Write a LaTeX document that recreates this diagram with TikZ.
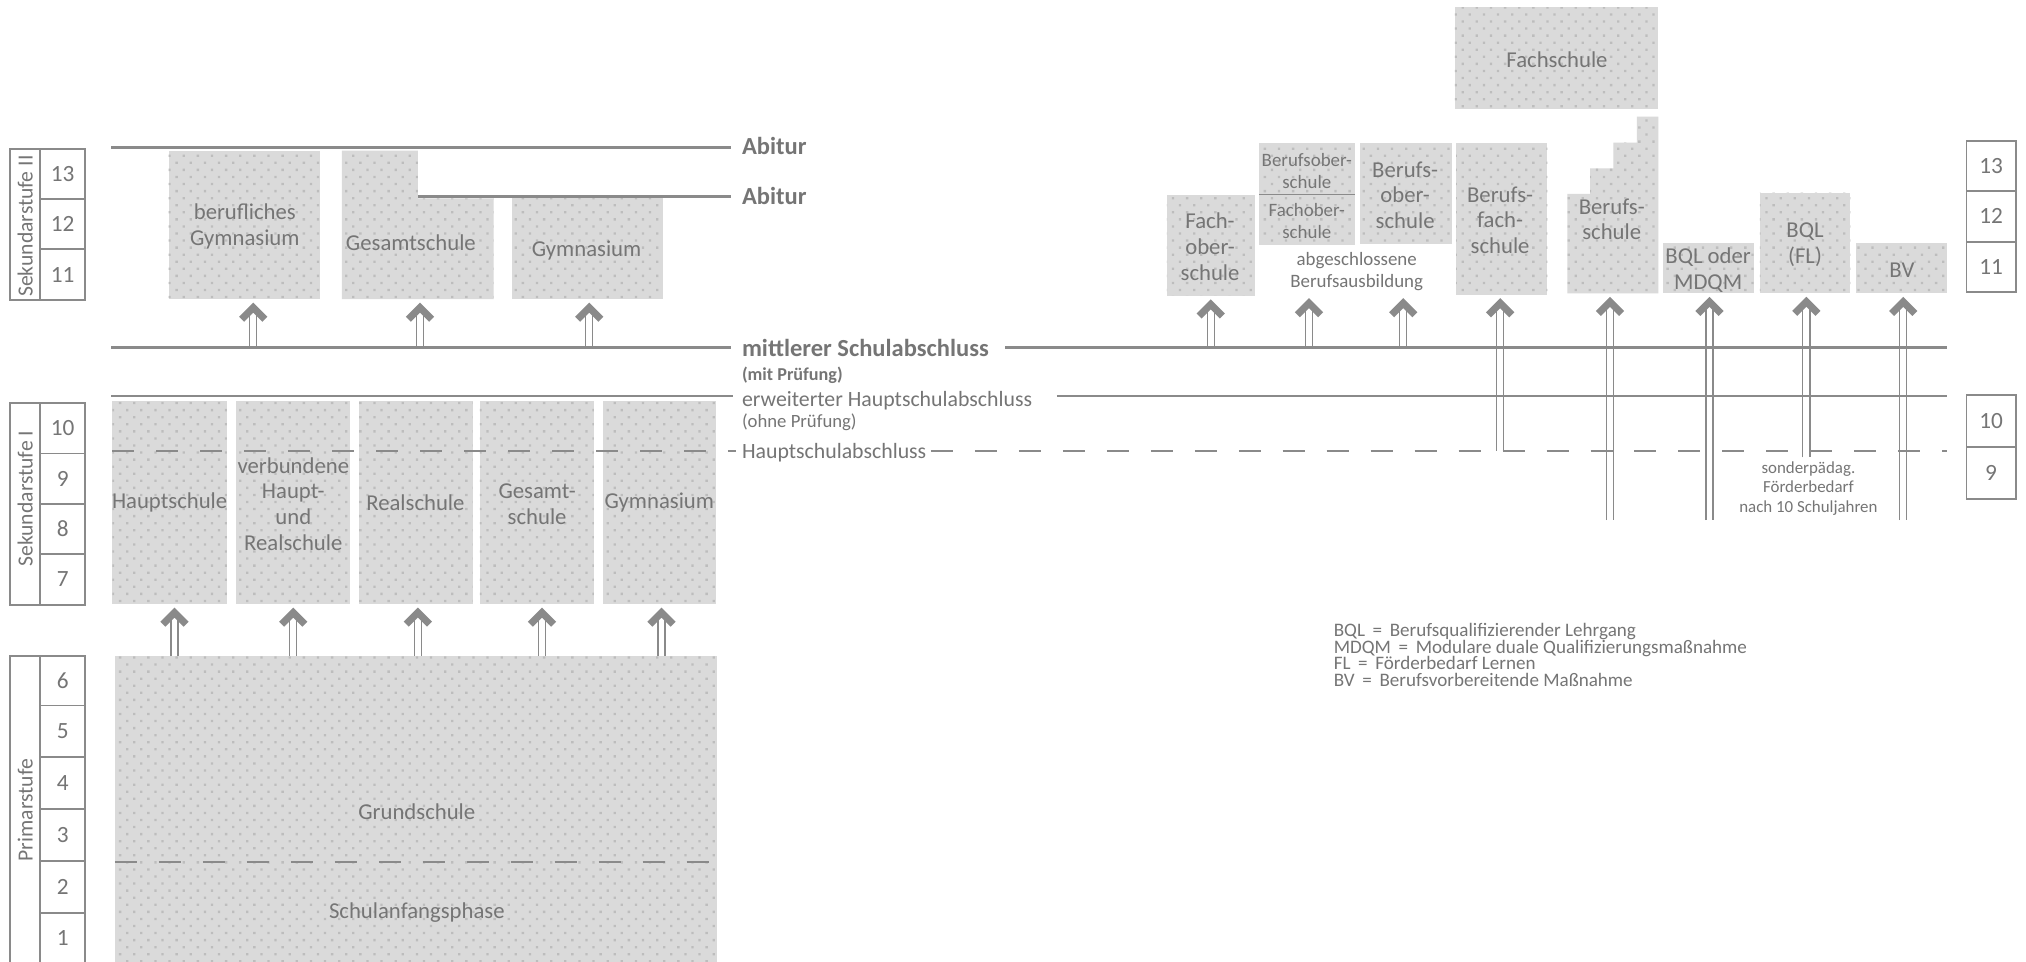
\documentclass[tikz,border=0pt]{standalone}
\usepackage{fontspec}
\setmainfont{Carlito}
\usetikzlibrary{fit,calc,patterns.meta}
\definecolor{ln}{HTML}{8A8A8A}
\definecolor{tx}{HTML}{757575}
\definecolor{bx}{HTML}{DADADA}
\definecolor{dt}{HTML}{BDBDBD}
\newcommand\fsz[2]{\fontsize{#1}{#2}\selectfont}
\newcommand\uparr[2]{%
  \draw[shaft] (#1) -- ($(#1 |- #2)+(0,8)$);
  \pic at ($(#1 |- #2)+(0,6.6)$) {chev};}
\tikzset{
  tex/.style={fill=bx, postaction={pattern={Dots[radius=0.9pt,distance=5.5pt,angle=45]}, pattern color=dt}},
  sbox/.style={tex, fit={#1}, inner sep=0pt, outer sep=0pt, draw=none},
  hole/.style={fit={#1}, inner sep=0pt, outer sep=0pt, draw=none},
  btxt/.style={font=\fsz{12.5}{14.2}, align=center, text=tx, inner sep=0pt},
  stxt/.style={font=\fsz{10.4}{12.1}, align=center, text=tx, inner sep=0pt},
  ttxt/.style={font=\fsz{9.3}{10.7}, align=center, text=tx, inner sep=0pt},
  ltxt/.style={font=\fsz{12}{14}, text=tx, inner sep=0pt, anchor=base west},
  lbold/.style={font=\fsz{13.5}{15}\bfseries, text=tx, inner sep=0pt, anchor=base west},
  num/.style={font=\fsz{12.8}{14}, text=tx, inner sep=0pt},
  vlab/.style={font=\fsz{11.9}{13}, text=tx, inner sep=0pt, rotate=90},
  legt/.style={font=\fsz{10.5}{9}, text=tx, inner sep=0pt, anchor=base west},
  thickln/.style={draw=ln, line width=1.9pt},
  thinln/.style={draw=ln, line width=0.9pt},
  dashln/.style={draw=ln, line width=1.1pt, dash pattern=on 12.1pt off 12.1pt},
  lab/.style={draw=ln, line width=1pt},
  shaft/.style={draw=ln, line width=0.7pt, double=white, double distance=3.2pt},
  chev/.pic={\draw[draw=ln, line width=3.9pt, line join=miter, line cap=butt] (-9,9) -- (0,0) -- (9,9);},
}
\begin{document}
\begin{tikzpicture}[x=0.025cm, y=-0.025cm]
\useasboundingbox (0,0) rectangle (1568,744);
\fill[white] (0,0) rectangle (1568,744);

% ---------- left label boxes
\draw[lab] (8,115) rectangle (66,232);
\draw[lab] (31,115) -- (31,232) (31,154) -- (66,154) (31,193) -- (66,193);
\node[vlab] (lsek2) at (19.5,175) {Sekundarstufe II};
\node[num] (n13) at (48.5,134.5) {13};
\node[num] (n12) at (48.5,173.5) {12};
\node[num] (n11) at (48.5,212.5) {11};

\draw[lab] (8,312) rectangle (66,468);
\draw[lab] (31,312) -- (31,468) (31,351) -- (66,351) (31,390) -- (66,390) (31,429) -- (66,429);
\node[vlab] (lsek1) at (19.5,386) {Sekundarstufe I};
\node[num] (n10) at (48.5,331.5) {10};
\node[num] (n9) at (48.5,370.5) {9};
\node[num] (n8) at (48.5,409.5) {8};
\node[num] (n7) at (48.5,448.5) {7};

\draw[lab] (8,508) rectangle (66,760);
\draw[lab] (31,508) -- (31,760) (31,546) -- (66,546) (31,586) -- (66,586) (31,626) -- (66,626) (31,666.5) -- (66,666.5) (31,706.4) -- (66,706.4);
\node[vlab] (lprim) at (19.5,627) {Primarstufe};
\node[num] (n6) at (48.5,527) {6};
\node[num] (n5) at (48.5,566) {5};
\node[num] (n4) at (48.5,606) {4};
\node[num] (n3) at (48.5,646) {3};
\node[num] (n2) at (48.5,686.5) {2};
\node[num] (n1) at (48.5,726) {1};

% ---------- right label boxes
\draw[lab] (1522,109) rectangle (1560,226);
\draw[lab] (1522,148) -- (1560,148) (1522,187) -- (1560,187);
\node[num] (r13) at (1541,128.5) {13};
\node[num] (r12) at (1541,167.5) {12};
\node[num] (r11) at (1541,206.5) {11};
\draw[lab] (1522,306) rectangle (1560,386);
\draw[lab] (1522,346) -- (1560,346);
\node[num] (r10) at (1541,326) {10};
\node[num] (r9) at (1541,366) {9};

% ---------- Sek II boxes
\node[sbox={(130.6,116.5)(247.6,231.5)}] (bg) {};
\fill[tex] (264.5,116.5) -- (323.5,116.5) -- (323.5,153.5) -- (382,153.5) -- (382,231.5) -- (264.5,231.5) -- cycle;
\node[hole={(264.5,116.5)(382,231.5)}] (gs2) {};
\node[sbox={(396.6,153.5)(513,231.5)}] (gy2) {};

% ---------- Sek I boxes
\node[sbox={(87,310)(175.6,467.5)}] (hs) {};
\node[sbox={(182.7,310)(270.9,467.5)}] (vb) {};
\node[sbox={(277.6,310)(365.8,467.5)}] (rs) {};
\node[sbox={(371.4,310)(459.6,467.5)}] (ge) {};
\node[sbox={(466.3,310)(554.5,467.5)}] (gy1) {};

% ---------- Grundschule
\node[sbox={(89,507.7)(555,760)}] (gr) {};

% ---------- right boxes
\node[sbox={(1126,5.7)(1283,84.6)}] (fach) {};
\node[sbox={(903,151)(971,229)}] (fos) {};
\node[sbox={(974.7,111)(1048.8,189.6)}] (bos1) {};
\node[sbox={(1052.6,111)(1123.6,189)}] (bos2) {};
\node[sbox={(1127,111)(1197.6,228)}] (bfs) {};
\fill[tex] (1213,227) -- (1213,150) -- (1230.7,150) -- (1230.7,130.3) -- (1248.7,130.3) -- (1248.7,110.4) -- (1266.8,110.4) -- (1266.8,90.3) -- (1283.5,90.3) -- (1283.5,227) -- cycle;
\node[hole={(1213,90.3)(1283.5,227)}] (bs) {};
\node[sbox={(1287.4,188.3)(1357.8,227)}] (bqlm) {};
\node[sbox={(1362,149)(1432,227)}] (bqlfl) {};
\node[sbox={(1436.5,188.3)(1507,227)}] (bv) {};
\draw[draw=ln, line width=0.9pt] (bos1.west |- 0,150.4) -- (bos1.east |- 0,150.4);
\coordinate (abs) at (1050,228);

% ---------- arrow start points
\coordinate (a1) at (196,269);
\coordinate (a2) at (325,269);
\coordinate (a3) at (456,269);
\coordinate (b1) at (135,507.7);
\coordinate (b2) at (227,507.7);
\coordinate (b3) at (323.4,507.7);
\coordinate (b4) at (419.5,507.7);
\coordinate (b5) at (512,507.7);
\coordinate (c1) at (937,269);
\coordinate (c2) at (1013,269);
\coordinate (c3) at (1086,269);
\coordinate (c4) at (1161,349);
\coordinate (c5) at (1246,402.5);
\coordinate (c6) at (1323,402.5);
\coordinate (c7) at (1398,354);
\coordinate (c8) at (1473,402.5);

\uparr{a1}{bg.south}
\uparr{a2}{gs2.south}
\uparr{a3}{gy2.south}
\uparr{b1}{hs.south}
\uparr{b2}{vb.south}
\uparr{b3}{rs.south}
\uparr{b4}{ge.south}
\uparr{b5}{gy1.south}
\uparr{c1}{fos.south}
\uparr{c2}{abs}
\uparr{c3}{abs}
\uparr{c4}{bfs.south}
\uparr{c5}{bs.south}
\uparr{c6}{bqlm.south}
\uparr{c7}{bqlfl.south}
\uparr{c8}{bv.south}

% ---------- horizontal lines
\draw[thickln] (86,114) -- (566,114);
\draw[thickln] (323.5,152) -- (566,152);
\draw[thickln] (86,269) -- (566,269);
\draw[thickln] (778,269) -- (1507,269);
\draw[thinln] (86,306.5) -- (567,306.5);
\draw[thinln] (818,306.5) -- (1507,306.5);
\draw[dashln] (87,349) -- (570,349);
\draw[dashln] (720.5,349) -- (1507,349);
\draw[dashln] (89,667) -- (555,667);

% ---------- line labels
\node[lbold] (abi1) at (574,119.6) {Abitur};
\node[lbold] (abi2) at (574,158) {Abitur};
\node[lbold] (msa) at (574,276) {mittlerer Schulabschluss};
\node[font=\fsz{10}{12}\bfseries, text=tx, inner sep=0pt, anchor=base west] (mp) at (574,294.5) {(mit Prüfung)};
\node[ltxt] (eha) at (574,314.5) {erweiterter Hauptschulabschluss};
\node[font=\fsz{10.3}{12}, text=tx, inner sep=0pt, anchor=base west] (op) at (574,330.5) {(ohne Prüfung)};
\node[ltxt] (hsa) at (574,355) {Hauptschulabschluss};

% ---------- box texts
\node[btxt] at (189.5,175) {berufliches\\Gymnasium};
\node[btxt] at (318,188) {Gesamtschule};
\node[btxt] at (454,194) {Gymnasium};
\node[btxt] at (131.3,389) {Hauptschule};
\node[btxt] at (227,390) {verbundene\\Haupt-\\und\\Realschule};
\node[btxt] at (321.5,389) {Realschule};
\node[btxt] at (415.7,390.5) {Gesamt-\\schule};
\node[btxt] at (510.3,389) {Gymnasium};
\node[btxt] at (322.6,628) {Grundschule};
\node[btxt] at (322.6,706) {Schulanfangsphase};

\node[btxt] at (1205,46) {Fachschule};
\node[btxt] at (936.5,191) {Fach-\\ober-\\schule};
\node[stxt] at (1011.4,132) {Berufsober-\\schule};
\node[stxt] at (1011.4,171) {Fachober-\\schule};
\node[stxt] at (1050,210.3) {abgeschlossene\\Berufsausbildung};
\node[btxt] at (1087.5,151) {Berufs-\\ober-\\schule};
\node[btxt] at (1161,170.4) {Berufs-\\fach-\\schule};
\node[btxt] at (1247.4,169.7) {Berufs-\\schule};
\node[btxt] at (1322,209) {BQL oder\\MDQM};
\node[btxt] at (1397,189.5) {BQL\\(FL)};
\node[btxt] at (1472,209) {BV};
\node[ttxt] at (1399.6,378) {sonderpädag.\\Förderbedarf\\nach 10 Schuljahren};

% ---------- legend
\node[legt] (lg1) at (1032,492.8) {BQL\hspace{0.4em}=\hspace{0.4em}Berufsqualifizierender Lehrgang};
\node[legt] (lg2) at (1032,505.5) {MDQM\hspace{0.4em}=\hspace{0.4em}Modulare duale Qualifizierungsmaßnahme};
\node[legt] (lg3) at (1032,518.2) {FL\hspace{0.4em}=\hspace{0.4em}Förderbedarf Lernen};
\node[legt] (lg4) at (1032,531) {BV\hspace{0.4em}=\hspace{0.4em}Berufsvorbereitende Maßnahme};
\end{tikzpicture}
\end{document}
